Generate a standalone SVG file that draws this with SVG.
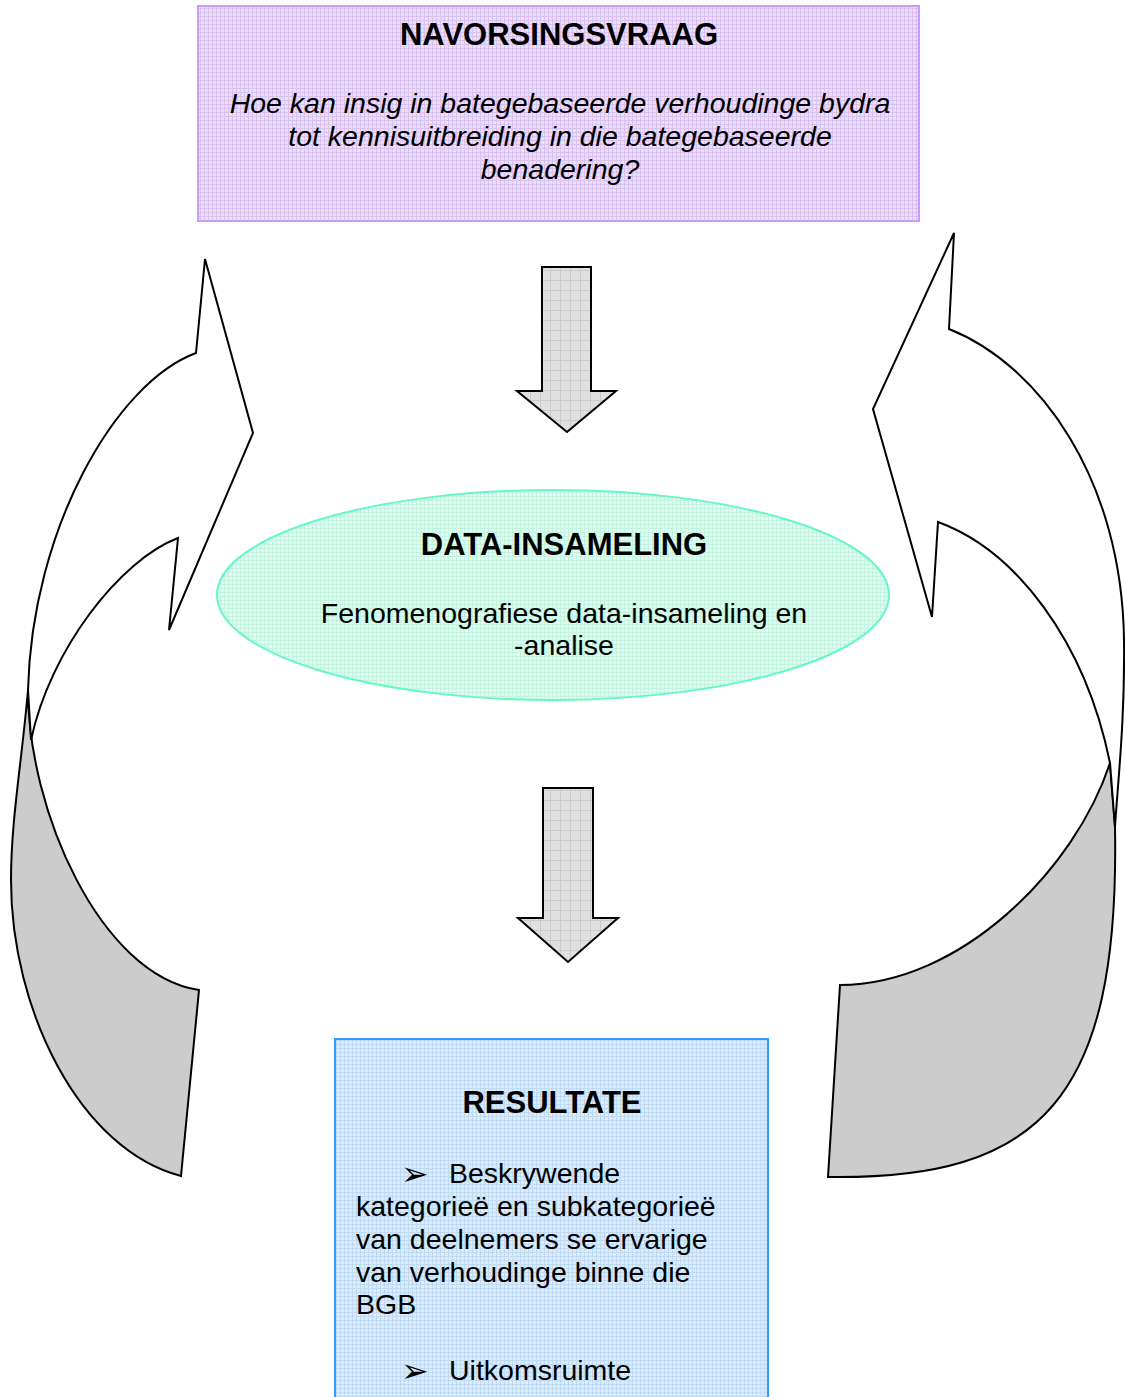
<svg xmlns="http://www.w3.org/2000/svg" width="1125" height="1397" viewBox="0 0 1125 1397">
  <defs>
    <!-- fine grid fills -->
    <pattern id="gridLav" width="4" height="4" patternUnits="userSpaceOnUse">
      <rect width="4" height="4" fill="#ecdefa"/>
      <path d="M0 0.5H4M0.5 0V4" stroke="#d8c2f0" stroke-width="1"/>
    </pattern>
    <pattern id="gridMint" width="4" height="4" patternUnits="userSpaceOnUse">
      <rect width="4" height="4" fill="#e0fbf1"/>
      <path d="M0 0.5H4M0.5 0V4" stroke="#c4f3df" stroke-width="1"/>
    </pattern>
    <pattern id="gridBlue" width="4" height="4" patternUnits="userSpaceOnUse">
      <rect width="4" height="4" fill="#daecfa"/>
      <path d="M0 0.5H4M0.5 0V4" stroke="#bfdaf2" stroke-width="1"/>
    </pattern>
    <pattern id="gridGrey" width="10" height="10" patternUnits="userSpaceOnUse">
      <rect width="10" height="10" fill="#e0e0e0"/>
      <path d="M0 0.5H10M0.5 0V10" stroke="#cbcbcb" stroke-width="1"/>
    </pattern>
    <style>
      text { font-family: "Liberation Sans", Arial, sans-serif; fill: #000; }
      .title { font-size: 31px; font-weight: bold; text-anchor: middle; }
      .body { font-size: 28.5px; }
      .mid { text-anchor: middle; }
      .ital { font-style: italic; }
      .bullet { font-family: "DejaVu Sans", sans-serif; font-size: 33px; }
      .down { fill: url(#gridGrey); stroke: #000; stroke-width: 2; stroke-linejoin: miter; }
      .front { fill: #fff; stroke: #000; stroke-width: 2; stroke-linejoin: miter; }
      .back { fill: #cccccc; stroke: #000; stroke-width: 2; stroke-linejoin: miter; }
    </style>
  </defs>

  <rect width="1125" height="1397" fill="#fff"/>

  <!-- connectors: straight block arrows and the two curved return arrows -->
  <g id="connectors">
    <g id="curve-left">
      <path class="back" d="M28,690 C22,760 11,820 11,880 C11,1010 80,1150 181,1176 L199,990 C100,975 28,810 28,690 Z"/>
      <path class="front" d="M196,353 L205,259 L253,433 L169,630 L178,538 C120,560 50,650 31,740 L28,690 C32,530 115,383 196,353 Z"/>
    </g>
    <g id="curve-right">
      <path class="back" d="M1110,763 L1115,827 C1120,1100 1040,1180 828,1177 L840,985 C960,985 1075,870 1110,763 Z"/>
      <path class="front" d="M949,329 L954,233 L873,409 L932,617 L938,522 C1015,550 1085,640 1110,763 L1115,827 C1118,780 1125,720 1124,640 C1122,480 1040,365 949,329 Z"/>
    </g>
    <path id="arrow-down-1" class="down" d="M542,267 H591 V391 H616 L567,432 L517,391 H542 Z"/>
    <path id="arrow-down-2" class="down" d="M543,788 H593 V918 H618 L568,962 L518,918 H543 Z"/>
  </g>

  <!-- research question -->
  <g id="node-question">
    <rect x="198" y="6" width="721" height="215" fill="url(#gridLav)" stroke="#cc99ff" stroke-width="2"/>
    <text class="title" x="559" y="45">NAVORSINGSVRAAG</text>
    <text class="body mid ital" x="560" y="113">Hoe kan insig in bategebaseerde verhoudinge bydra</text>
    <text class="body mid ital" x="560" y="146">tot kennisuitbreiding in die bategebaseerde</text>
    <text class="body mid ital" x="560" y="179">benadering?</text>
  </g>

  <!-- data collection -->
  <g id="node-data">
    <ellipse cx="553" cy="595" rx="336" ry="105" fill="url(#gridMint)" stroke="#66f7c8" stroke-width="2"/>
    <text class="title" x="564" y="555">DATA-INSAMELING</text>
    <text class="body mid" x="564" y="623">Fenomenografiese data-insameling en</text>
    <text class="body mid" x="564" y="655">-analise</text>
  </g>

  <!-- results -->
  <g id="node-results">
    <rect x="335" y="1039" width="433" height="380" fill="url(#gridBlue)" stroke="#3399ff" stroke-width="2"/>
    <text class="title" x="552" y="1113">RESULTATE</text>
    <text class="bullet" x="401" y="1185">➢</text>
    <text class="body" x="449" y="1183">Beskrywende</text>
    <text class="body" x="356" y="1216">kategorieë en subkategorieë</text>
    <text class="body" x="356" y="1249">van deelnemers se ervarige</text>
    <text class="body" x="356" y="1282">van verhoudinge binne die</text>
    <text class="body" x="356" y="1314">BGB</text>
    <text class="bullet" x="401" y="1382">➢</text>
    <text class="body" x="449" y="1380">Uitkomsruimte</text>
  </g>
</svg>
